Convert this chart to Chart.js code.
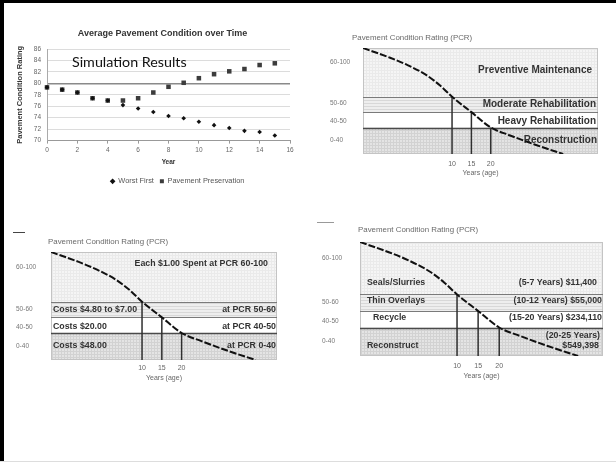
<!DOCTYPE html>
<html>
<head>
<meta charset="utf-8">
<title>Pavement condition</title>
<script src="https://cdn.jsdelivr.net/npm/chart.js@4.4.1/dist/chart.umd.min.js"></script>
<style>
  body { margin: 0; background: #fff; }
  #slide { position: relative; width: 616px; height: 462px; overflow: hidden; background: #fff; }
  #slide canvas { position: absolute; }
  .rule { position: absolute; }
  #simLabel { position: absolute; left: 72px; top: 53px; line-height: 20px; font: 14.3px Lato, 'Open Sans', sans-serif; color: #111; white-space: nowrap; }
</style>
</head>
<body>
<div id="slide">
  <canvas id="phases" width="273" height="157" style="left:330px;top:25px"></canvas>
  <canvas id="costs" width="265" height="163" style="left:16px;top:225px"></canvas>
  <canvas id="methods" width="285" height="174" style="left:322px;top:210px"></canvas>
  <canvas id="trend" width="309" height="175" style="left:8px;top:20px"></canvas>
  <div id="simLabel">Simulation Results</div>
  <div class="rule" style="left:13px;top:232px;width:12px;height:1px;background:#444"></div>
  <div class="rule" style="left:317px;top:222px;width:17px;height:1px;background:#999"></div>
  <div class="rule" style="left:0;top:0;width:616px;height:3px;background:#000"></div>
  <div class="rule" style="left:0;top:0;width:4px;height:462px;background:#000"></div>
  <div class="rule" style="left:0;top:461px;width:616px;height:1px;background:#ddd"></div>
</div>
<script>
// simulation results (top left)
const years = [0, 1, 2, 3, 4, 5, 6, 7, 8, 9, 10, 11, 12, 13, 14, 15];
const worstFirst = [79.3, 78.9, 78.4, 77.4, 77.0, 76.2, 75.6, 75.0, 74.3, 73.9, 73.3, 72.7, 72.2, 71.7, 71.5, 70.9];
const pavementPreservation = [79.3, 78.9, 78.4, 77.4, 77.0, 77.0, 77.4, 78.4, 79.4, 80.1, 80.9, 81.6, 82.1, 82.5, 83.2, 83.5];

// deterioration curve shared by the three PCR diagrams
const curveAge = [-13, -6, -1.5, 3.5, 7, 10, 15, 20, 25, 31.5, 38.7];
const curvePcr = [100, 92, 86, 77.5, 69, 60, 50, 40, 28, 14, 0];
const markAges = [10, 15, 20];
const markPcr = [60, 50, 40];
const pcrBandEdges = [0, 40, 50, 60, 100];
const pcrTickValues = [88, 55.5, 44, 21];
const pcrTickLabels = ['60-100', '50-60', '40-50', '0-40'];

const phaseLabels = ['Preventive Maintenance', 'Moderate Rehabilitation', 'Heavy Rehabilitation', 'Reconstruction'];
const phasePcr = [82, 55, 44, 21];

const costLeftLabels = ['Costs $4.80 to $7.00', 'Costs $20.00', 'Costs $48.00'];
const costLeftPcr = [55, 44, 21];
const costRightLabels = ['Each $1.00 Spent at PCR 60-100', 'at PCR 50-60', 'at PCR 40-50', 'at PCR 0-40'];
const costRightPcr = [91, 55, 44, 21];

const methodLabels = ['Seals/Slurries', 'Thin Overlays', 'Recycle', 'Reconstruct'];
const methodPcr = [69, 56, 46, 14];
const methodCostLabels = ['(5-7 Years) $11,400', '(10-12 Years) $55,000', '(15-20 Years) $234,110', '(20-25 Years)', '$549,398'];
const methodCostPcr = [69, 56, 46, 28.5, 14];

const FONT = "'Liberation Sans', Arial, sans-serif";
Chart.defaults.font.family = FONT;
Chart.defaults.animation = false;
Chart.defaults.responsive = false;
Chart.defaults.plugins.tooltip.enabled = false;

// the diagrams are not drawn to scale: each PCR band gets its own share of the height
const bandStops = [0, 0.25, 0.395, 0.54, 1];

function remap(v, from, to) {
  for (let i = 0; i < from.length - 1; i++) {
    if (v <= from[i + 1] || i === from.length - 2) {
      const t = (v - from[i]) / (from[i + 1] - from[i]);
      return to[i] + t * (to[i + 1] - to[i]);
    }
  }
}

class PcrBandScale extends Chart.LinearScale {
  static id = 'pcrBand';
  static defaults = {};
  getPixelForValue(value) {
    return this.getPixelForDecimal(remap(value, pcrBandEdges, bandStops));
  }
  getValueForPixel(pixel) {
    return remap(this.getDecimalForPixel(pixel), bandStops, pcrBandEdges);
  }
}
Chart.register(PcrBandScale);

// the legend in the original sits a little right of the plot centre
const legendNudge = {
  id: 'legendNudge',
  afterLayout(chart) {
    chart.legend.left += 9;
    chart.legend.right += 9;
  }
};

new Chart(document.getElementById('trend'), {
  type: 'scatter',
  data: {
    datasets: [
      {
        label: 'Worst First',
        data: years.map((x, i) => ({x, y: worstFirst[i]})),
        pointStyle: 'rectRot',
        pointRadius: 2.3,
        backgroundColor: '#111',
        borderColor: '#111',
        borderWidth: 0,
        clip: false
      },
      {
        label: 'Pavement Preservation',
        data: years.map((x, i) => ({x, y: pavementPreservation[i]})),
        pointStyle: 'rect',
        pointRadius: 3.2,
        backgroundColor: '#3c3c3c',
        borderColor: '#3c3c3c',
        borderWidth: 0,
        clip: false
      }
    ]
  },
  options: {
    plugins: {
      title: {
        display: true,
        text: 'Average Pavement Condition over Time',
        color: '#333',
        font: { size: 9, weight: 'bold' },
        padding: { top: 8.6, bottom: 9.6 }
      },
      legend: {
        position: 'bottom',
        fullSize: false,
        labels: { usePointStyle: true, boxWidth: 4, boxHeight: 4, padding: 6, color: '#555', font: { size: 7.4 } }
      }
    },
    scales: {
      x: {
        type: 'linear', min: 0, max: 16,
        ticks: { stepSize: 2, color: '#666', font: { size: 6.5 }, padding: 3 },
        grid: { drawOnChartArea: false, tickLength: 3, color: '#999' },
        border: { color: '#999' },
        title: { display: true, text: 'Year', color: '#333', font: { size: 6.5, weight: 'bold' }, padding: { top: 0, bottom: 5 } },
        afterFit: s => { s.height = 31; }
      },
      y: {
        min: 70, max: 86,
        ticks: { stepSize: 2, color: '#666', font: { size: 6.5 }, padding: 6 },
        grid: {
          drawTicks: false,
          color: c => c.tick.value === 80 ? '#8a8a8a' : '#dcdcdc',
          lineWidth: c => c.tick.value === 80 ? 1.6 : 1
        },
        border: { color: '#aaa' },
        title: { display: true, text: 'Pavement Condition Rating', color: '#333', font: { size: 7.5, weight: 'bold' }, padding: { top: 7.5, bottom: 0 } },
        afterFit: s => { s.width = 39; }
      },
      // empty margin on the right so the title stays centred on the whole chart
      yRight: {
        position: 'right',
        ticks: { display: false },
        grid: { display: false },
        border: { display: false },
        afterFit: s => { s.width = 27; }
      }
    }
  },
  plugins: [legendNudge]
});

function tile(ctx, bg, line, step, gridLines) {
  const c = document.createElement('canvas');
  c.width = c.height = step;
  const g = c.getContext('2d');
  g.fillStyle = bg;
  g.fillRect(0, 0, step, step);
  g.fillStyle = line;
  g.fillRect(0, 0, step, 1);
  if (gridLines) g.fillRect(0, 0, 1, step);
  return ctx.createPattern(c, 'repeat');
}

function pcrDiagram(id, cfg) {
  const canvas = document.getElementById(id);
  const c2d = canvas.getContext('2d');
  // bottom band first
  const fills = [
    tile(c2d, '#e4e4e4', '#d2d2d2', 3, true),
    '#ffffff',
    tile(c2d, '#eeeeee', '#d8d8d8', 3, false),
    tile(c2d, '#f5f5f5', '#eaeaea', 3, true)
  ];

  const overlay = {
    id: 'pcrOverlay',
    beforeDatasetsDraw(chart) {
      const {ctx, chartArea: a, scales: {y}} = chart;
      ctx.save();
      for (let i = 0; i < pcrBandEdges.length - 1; i++) {
        const top = y.getPixelForValue(pcrBandEdges[i + 1]);
        const bottom = y.getPixelForValue(pcrBandEdges[i]);
        ctx.fillStyle = fills[i];
        ctx.fillRect(a.left, top, a.right - a.left, bottom - top);
      }
      ctx.strokeStyle = '#c4c4c4';
      ctx.lineWidth = 1;
      ctx.strokeRect(a.left + 0.5, a.top + 0.5, a.right - a.left - 1, a.bottom - a.top - 1);
      pcrBandEdges.slice(1, -1).forEach(v => {
        const py = Math.round(y.getPixelForValue(v)) + 0.5;
        ctx.strokeStyle = v === 40 ? '#4a4a4a' : '#7a7a7a';
        ctx.lineWidth = v === 40 ? 1.6 : 1;
        ctx.beginPath();
        ctx.moveTo(a.left, py);
        ctx.lineTo(a.right, py);
        ctx.stroke();
      });

      ctx.textBaseline = 'middle';
      ctx.textAlign = 'left';
      ctx.fillStyle = '#6a6a6a';
      ctx.font = '7.9px ' + FONT;
      ctx.fillText('Pavement Condition Rating (PCR)', a.left + cfg.headerDx, a.top + cfg.headerDy);

      ctx.fillStyle = '#333';
      ctx.font = 'bold ' + cfg.labelSize + 'px ' + FONT;
      (cfg.leftLabels || []).forEach((t, i) => {
        ctx.fillText(t, a.left + cfg.leftInset[i], y.getPixelForValue(cfg.leftPcr[i]));
      });
      ctx.textAlign = 'right';
      (cfg.rightLabels || []).forEach((t, i) => {
        ctx.fillText(t, a.right - cfg.rightInset[i], y.getPixelForValue(cfg.rightPcr[i]));
      });
      ctx.restore();
    }
  };

  return new Chart(canvas, {
    type: 'line',
    data: {
      datasets: [
        {
          data: curveAge.map((x, i) => ({x, y: curvePcr[i]})),
          borderColor: '#111',
          borderWidth: 2,
          borderDash: [7, 2],
          pointRadius: 0,
          cubicInterpolationMode: 'monotone'
        },
        ...markAges.map((x, i) => ({
          data: [{x, y: 0}, {x, y: markPcr[i]}],
          borderColor: '#2f2f2f',
          borderWidth: 1.5,
          pointRadius: 0
        }))
      ]
    },
    options: {
      layout: { padding: { top: cfg.top, right: cfg.right } },
      plugins: { legend: { display: false } },
      scales: {
        x: {
          type: 'linear', min: -13, max: cfg.ageMax,
          grid: { display: false, drawTicks: false },
          border: { display: false },
          afterBuildTicks: s => { s.ticks = markAges.map(value => ({value})); },
          ticks: { autoSkip: false, maxRotation: 0, color: '#666', font: { size: 7 }, padding: cfg.tickPad },
          title: { display: true, text: 'Years (age)', color: '#666', font: { size: 7 }, padding: { top: 0, bottom: cfg.titlePad } },
          afterFit: s => { s.height = 28; }
        },
        y: {
          type: 'pcrBand', min: 0, max: 100,
          grid: { display: false, drawTicks: false },
          border: { display: false },
          afterBuildTicks: s => { s.ticks = pcrTickValues.map(value => ({value})); },
          ticks: { autoSkip: false, crossAlign: 'far', color: '#777', font: { size: 6.5 }, callback: (v, i) => pcrTickLabels[i] },
          afterFit: s => { s.width = cfg.axisWidth; }
        }
      }
    },
    plugins: [overlay]
  });
}

pcrDiagram('phases', {
  axisWidth: 33, top: 23, right: 5, ageMax: 47.7, tickPad: 5.5, titlePad: 4.8,
  headerDx: -11, headerDy: -10, labelSize: 10,
  rightLabels: phaseLabels, rightPcr: phasePcr, rightInset: [6, 2, 2, 1]
});

pcrDiagram('costs', {
  axisWidth: 35, top: 27, right: 4, ageMax: 44.1, tickPad: 3.5, titlePad: 5.8,
  headerDx: -3, headerDy: -10, labelSize: 8.8,
  leftLabels: costLeftLabels, leftPcr: costLeftPcr, leftInset: [2, 2, 2],
  rightLabels: costRightLabels, rightPcr: costRightPcr, rightInset: [9, 1, 1, 1]
});

pcrDiagram('methods', {
  axisWidth: 38, top: 32, right: 4, ageMax: 44.6, tickPad: 5.5, titlePad: 3.8,
  headerDx: -2, headerDy: -12, labelSize: 8.8,
  leftLabels: methodLabels, leftPcr: methodPcr, leftInset: [7, 7, 13, 7],
  rightLabels: methodCostLabels, rightPcr: methodCostPcr, rightInset: [6, 1, 1, 3, 4]
});
</script>
</body>
</html>
